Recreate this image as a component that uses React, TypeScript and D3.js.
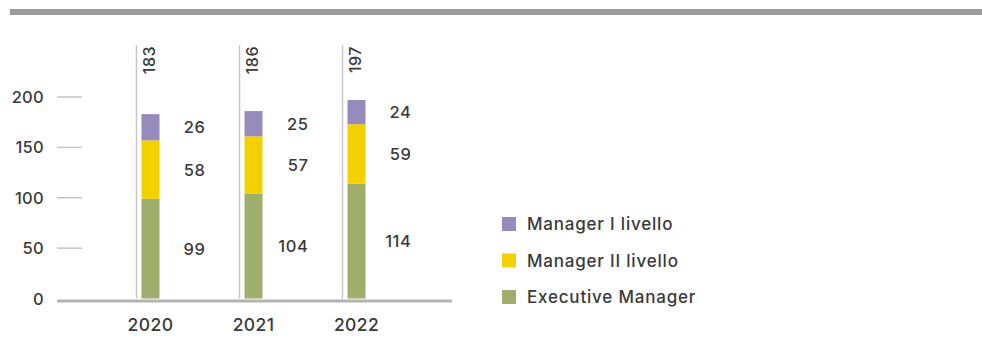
import React from "react";
import * as d3 from "d3";

const years = ["2020", "2021", "2022"];
const executiveManager = [99, 104, 114];
const managerII = [58, 57, 59];
const managerI = [26, 25, 24];
const totals = [183, 186, 197];
const yTicks = [0, 50, 100, 150, 200];
const seriesNames = ["Executive Manager", "Manager II livello", "Manager I livello"];
const legendOrder = ["Manager I livello", "Manager II livello", "Executive Manager"];

const colors: Record<string, string> = {
  "Executive Manager": "#9fae6b",
  "Manager II livello": "#f3d000",
  "Manager I livello": "#978abd",
};

const FONT = "Inter, 'DejaVu Sans', sans-serif";
const TEXT = "#3a3a3a";
const WEIGHT = 500;

export default function App() {
  const W = 982;
  const H = 358;
  const x = d3.scalePoint<string>().domain(years).range([150.5, 356.5]);
  const y = d3.scaleLinear().domain([0, 200]).range([298.5, 97]);
  const barW = 18;

  const table = years.map((yr, i) => ({
    year: yr,
    "Executive Manager": executiveManager[i],
    "Manager II livello": managerII[i],
    "Manager I livello": managerI[i],
  }));
  const stack = d3.stack<any>().keys(seriesNames)(table);

  const legendY = d3.scalePoint<string>().domain(legendOrder).range([224, 297]);

  return (
    <svg
      width={W}
      height={H}
      style={{ position: "absolute", left: 0, top: 0, display: "block", background: "#fff" }}
      fontFamily={FONT}
      fontWeight={WEIGHT}
    >
      <rect x={10} y={9} width={W - 10} height={6} fill="#9a9a9a" />

      {yTicks.map((t) => (
        <g key={t}>
          {t > 0 && (
            <line x1={57} x2={82} y1={y(t)} y2={y(t)} stroke="#c4c4c4" strokeWidth={1.5} />
          )}
          <text
            x={44}
            y={y(t)}
            textAnchor="end"
            dominantBaseline="central"
            fontSize={16.5}
            letterSpacing={0.3}
            fill={TEXT}
          >
            {t}
          </text>
        </g>
      ))}

      {years.map((yr) => (
        <line
          key={"v" + yr}
          x1={(x(yr) as number) - 14}
          x2={(x(yr) as number) - 14}
          y1={45}
          y2={y(0)}
          stroke="#c8c8c8"
          strokeWidth={1.5}
        />
      ))}

      {stack.map((s) =>
        s.map((d, i) => (
          <rect
            key={s.key + i}
            x={(x(years[i]) as number) - barW / 2}
            y={y(d[1])}
            width={barW}
            height={y(d[0]) - y(d[1])}
            fill={colors[s.key]}
          />
        ))
      )}

      {stack.map((s) =>
        s.map((d, i) => (
          <text
            key={"l" + s.key + i}
            x={(x(years[i]) as number) + 55}
            y={y((d[0] + d[1]) / 2)}
            textAnchor="end"
            dominantBaseline="central"
            fontSize={16.5}
            letterSpacing={0.6}
            fill={TEXT}
          >
            {d[1] - d[0]}
          </text>
        ))
      )}

      {years.map((yr, i) => (
        <text
          key={"t" + yr}
          transform={`translate(${(x(yr) as number) + 4.5},46) rotate(-90)`}
          textAnchor="end"
          fontSize={16}
          letterSpacing={0.5}
          fill={TEXT}
        >
          {totals[i]}
        </text>
      ))}

      <line x1={57} x2={452} y1={301} y2={301} stroke="#b3b3b3" strokeWidth={3} />

      {years.map((yr) => (
        <text
          key={"x" + yr}
          x={x(yr) as number}
          y={324}
          textAnchor="middle"
          dominantBaseline="central"
          fontSize={17.5}
          letterSpacing={0.4}
          fill={TEXT}
        >
          {yr}
        </text>
      ))}

      {legendOrder.map((name) => (
        <g key={"lg" + name}>
          <rect
            x={502}
            y={(legendY(name) as number) - 7}
            width={14}
            height={14}
            fill={colors[name]}
          />
          <text
            x={527}
            y={legendY(name) as number}
            dominantBaseline="central"
            fontSize={17}
            letterSpacing={0.8}
            fill={TEXT}
          >
            {name}
          </text>
        </g>
      ))}
    </svg>
  );
}
